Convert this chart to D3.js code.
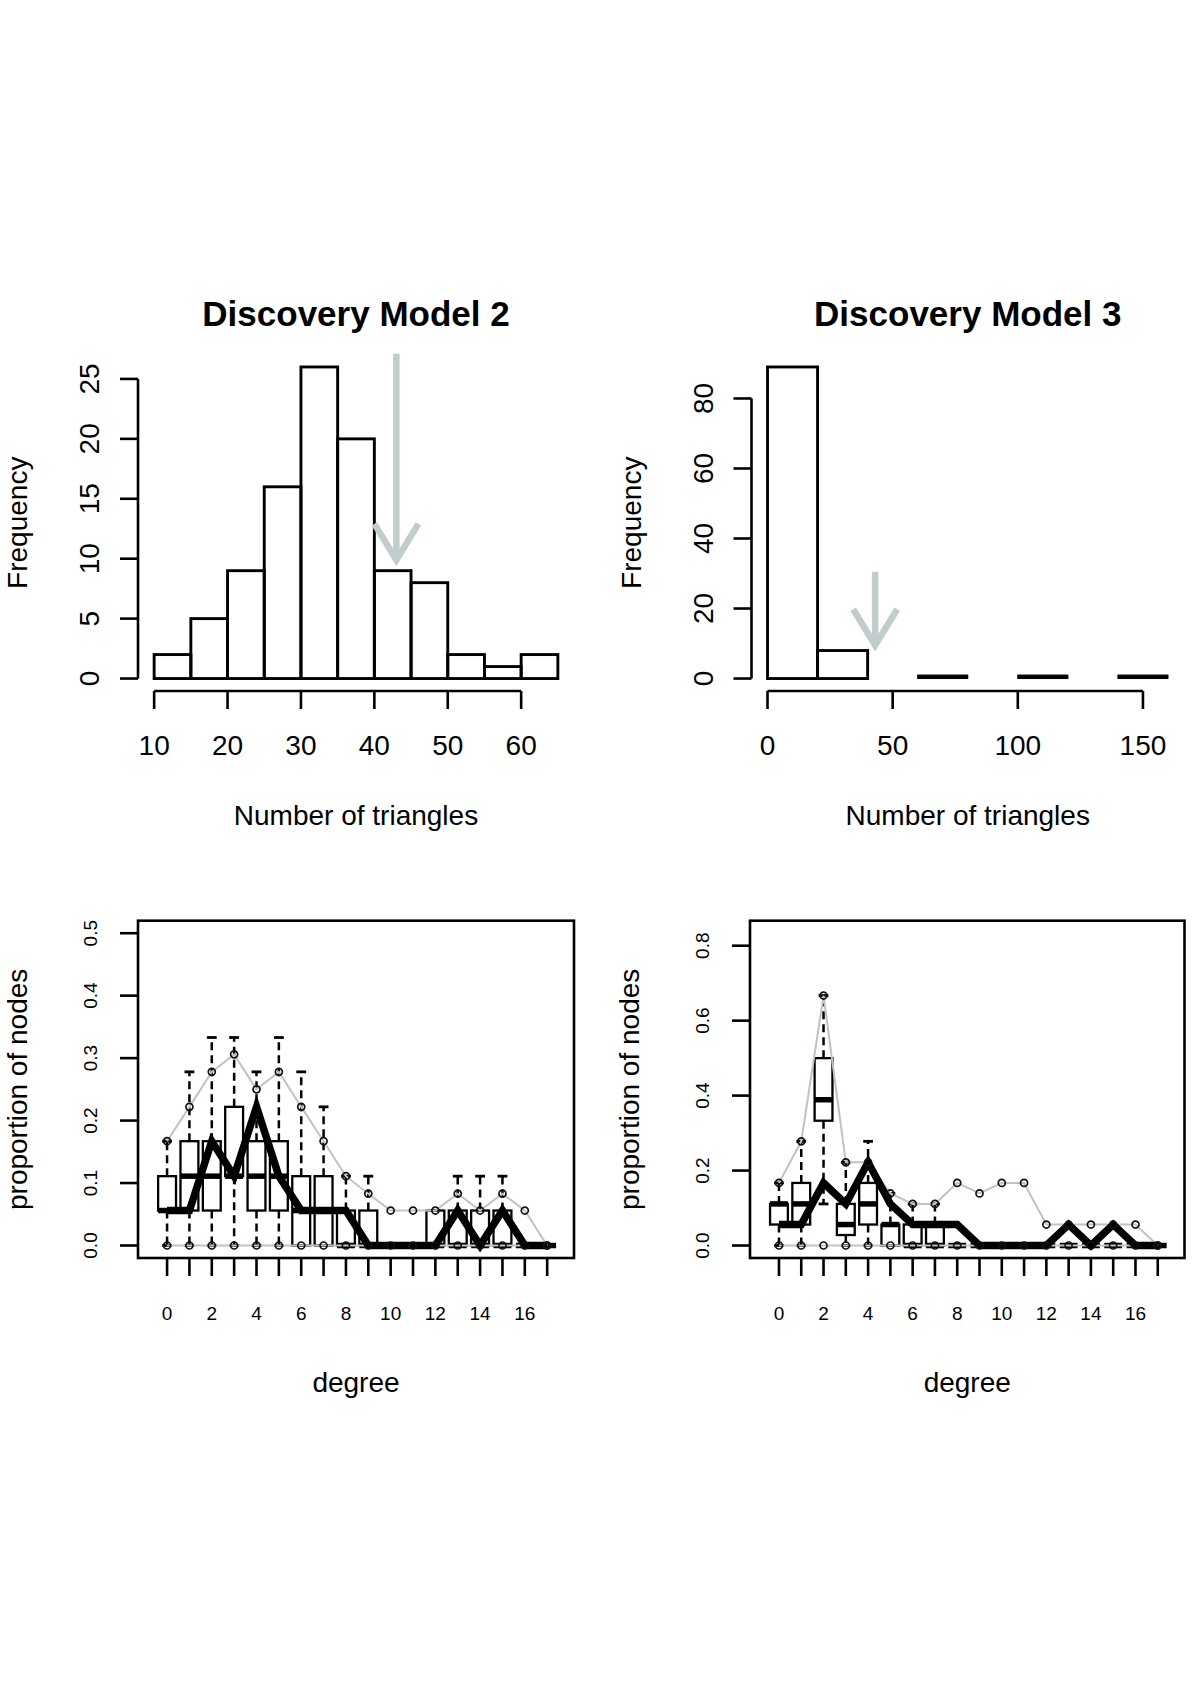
<!DOCTYPE html>
<html><head><meta charset="utf-8">
<script src="https://cdn.jsdelivr.net/npm/d3@7"></script>
<style>
body{margin:0;background:#fff}
svg{display:block}
text{font-family:"Liberation Sans",Arial,sans-serif;fill:#000}
</style>
</head><body><div id="chart"></div>
<script>
// ---------------- data ----------------
const titles = ["Discovery Model 2", "Discovery Model 3"];
const histXLabel = "Number of triangles";
const histYLabel = "Frequency";
const gofXLabel = "degree";
const gofYLabel = "proportion of nodes";

const binEdges2 = [10, 15, 20, 25, 30, 35, 40, 45, 50, 55, 60, 65];
const counts2 = [2, 5, 9, 16, 26, 20, 9, 8, 2, 1, 2];
const xTicks2 = [10, 20, 30, 40, 50, 60];
const yTicks2 = [0, 5, 10, 15, 20, 25];

const binEdges3 = [0, 20, 40, 60, 80, 100, 120, 140, 160];
const counts3 = [89, 8, 0, 1, 0, 1, 0, 1];
const xTicks3 = [0, 50, 100, 150];
const yTicks3 = [0, 20, 40, 60, 80];

const observedTriangles = [43, 43];
const arrowFrom = [27.1, 30.5];
const arrowTo = [9.9, 9.5];

const degrees = [0, 1, 2, 3, 4, 5, 6, 7, 8, 9, 10, 11, 12, 13, 14, 15, 16, 17];
const degreeLabels = [0, 2, 4, 6, 8, 10, 12, 14, 16];
const gofYTicks2 = [0, 0.1, 0.2, 0.3, 0.4, 0.5];
const gofYTicks3 = [0, 0.2, 0.4, 0.6, 0.8];

// observed network degree distribution (same network in both panels)
const observed = [0.056, 0.056, 0.167, 0.111, 0.222, 0.111, 0.056, 0.056, 0.056, 0, 0, 0, 0, 0.056, 0, 0.056, 0, 0];

// Model 2 simulated degree distribution (boxplots + 95% bounds)
const q1_2  = [0.056, 0.056, 0.056, 0.111, 0.056, 0.056, 0, 0, 0, 0, 0, 0, 0, 0, 0, 0, 0, 0];
const med_2 = [0.056, 0.111, 0.111, 0.111, 0.111, 0.111, 0.056, 0.056, 0, 0, 0, 0, 0, 0, 0, 0, 0, 0];
const q3_2  = [0.111, 0.167, 0.167, 0.222, 0.167, 0.167, 0.111, 0.111, 0.056, 0.056, 0, 0, 0.056, 0.056, 0.056, 0.056, 0, 0];
const wlo_2 = [0, 0, 0, 0, 0, 0, 0, 0, 0, 0, 0, 0, 0, 0, 0, 0, 0, 0];
const whi_2 = [0.167, 0.278, 0.333, 0.333, 0.278, 0.333, 0.278, 0.222, 0.111, 0.111, 0, 0, 0.056, 0.111, 0.111, 0.111, 0, 0];
const upper_2 = [0.167, 0.222, 0.278, 0.306, 0.25, 0.278, 0.222, 0.167, 0.111, 0.083, 0.056, 0.056, 0.056, 0.083, 0.056, 0.083, 0.056, 0];
const lower_2 = [0, 0, 0, 0, 0, 0, 0, 0, 0, 0, 0, 0, 0, 0, 0, 0, 0, 0];

// Model 3
const q1_3  = [0.056, 0.056, 0.333, 0.028, 0.056, 0, 0, 0, 0, 0, 0, 0, 0, 0, 0, 0, 0, 0];
const med_3 = [0.111, 0.111, 0.389, 0.056, 0.111, 0.056, 0, 0, 0, 0, 0, 0, 0, 0, 0, 0, 0, 0];
const q3_3  = [0.111, 0.167, 0.5, 0.111, 0.167, 0.056, 0.056, 0.056, 0, 0, 0, 0, 0, 0, 0, 0, 0, 0];
const wlo_3 = [0, 0, 0.111, 0, 0, 0, 0, 0, 0, 0, 0, 0, 0, 0, 0, 0, 0, 0];
const whi_3 = [0.167, 0.278, 0.667, 0.222, 0.278, 0.139, 0.111, 0.111, 0, 0, 0, 0, 0, 0, 0, 0, 0, 0];
const upper_3 = [0.167, 0.278, 0.667, 0.222, 0.222, 0.139, 0.111, 0.111, 0.167, 0.139, 0.167, 0.167, 0.056, 0.056, 0.056, 0.056, 0.056, 0];
const lower_3 = [0, 0, 0, 0, 0, 0, 0, 0, 0, 0, 0, 0, 0, 0, 0, 0, 0, 0];

// ---------------- drawing ----------------
const W = 1200, H = 1698;
const svg = d3.select("#chart").append("svg").attr("width", W).attr("height", H);
svg.append("rect").attr("width", W).attr("height", H).attr("fill", "#fff");

const LW = 2.6;
const arrowCol = "#c1cdcd";
const greyCol = "#bcc4c4";

function rotText(g, x, y, txt, size) {
  g.append("text").attr("transform", `translate(${x},${y}) rotate(-90)`)
    .attr("text-anchor", "middle").attr("font-size", size).text(txt);
}

function histPanel(p) {
  const g = svg.append("g");
  const x = d3.scaleLinear().domain(p.xDom).range([p.L, p.R]);
  const y = d3.scaleLinear().domain(p.yDom).range([p.B, p.T]);
  const cx = (p.L + p.R) / 2, cy = (p.T + p.B) / 2;
  // title
  g.append("text").attr("x", cx).attr("y", 326).attr("text-anchor", "middle")
    .attr("font-size", 35).attr("font-weight", "bold").text(p.title);
  // bars
  const bins = p.counts.map((c, i) => ({x0: p.edges[i], x1: p.edges[i + 1], c}));
  const thin = d => d.c > 0 && (y(0) - y(d.c)) < 5;
  g.selectAll("rect.bar").data(bins).join("rect").attr("class", "bar")
    .attr("x", d => x(d.x0)).attr("width", d => x(d.x1) - x(d.x0))
    .attr("y", d => y(d.c)).attr("height", d => y(0) - y(d.c))
    .attr("fill", d => thin(d) ? "#000" : "none")
    .attr("stroke", "#000").attr("stroke-width", d => thin(d) ? 1 : 2.9);
  // x axis
  g.append("line").attr("x1", x(p.xTicks[0])).attr("x2", x(p.xTicks[p.xTicks.length - 1]))
    .attr("y1", p.B).attr("y2", p.B).attr("stroke", "#000").attr("stroke-width", LW);
  p.xTicks.forEach(t => {
    g.append("line").attr("x1", x(t)).attr("x2", x(t)).attr("y1", p.B).attr("y2", p.B + 18)
      .attr("stroke", "#000").attr("stroke-width", LW);
    g.append("text").attr("x", x(t)).attr("y", p.B + 64).attr("text-anchor", "middle")
      .attr("font-size", 28).text(t);
  });
  // y axis
  g.append("line").attr("x1", p.L).attr("x2", p.L).attr("y1", y(p.yTicks[0]))
    .attr("y2", y(p.yTicks[p.yTicks.length - 1])).attr("stroke", "#000").attr("stroke-width", LW);
  p.yTicks.forEach(t => {
    g.append("line").attr("x1", p.L - 18).attr("x2", p.L).attr("y1", y(t)).attr("y2", y(t))
      .attr("stroke", "#000").attr("stroke-width", LW);
    rotText(g, p.L - 39, y(t), t, 28);
  });
  // labels
  g.append("text").attr("x", cx).attr("y", p.B + 134).attr("text-anchor", "middle")
    .attr("font-size", 28).text(histXLabel);
  rotText(g, p.L - 111, cy, histYLabel, 28);
  // arrow for observed value
  const ax = x(p.obs), ay0 = y(p.aFrom), ay1 = y(p.aTo);
  const ag = g.append("g").attr("stroke", arrowCol).attr("stroke-width", 6.5).attr("fill", "none");
  ag.append("line").attr("x1", ax).attr("x2", ax).attr("y1", ay0).attr("y2", ay1);
  ag.append("path").attr("d", `M${ax - 22},${ay1 - 36}L${ax},${ay1}L${ax + 22},${ay1 - 36}`)
    .attr("stroke-linejoin", "miter");
}

function gofPanel(p) {
  const g = svg.append("g");
  const x = d3.scaleLinear().domain([-1.3, 18.2]).range([p.L, p.R]);
  const y = d3.scaleLinear().domain(p.yDom).range([p.B, p.T]);
  const cx = (p.L + p.R) / 2, cy = (p.T + p.B) / 2;
  const unit = x(1) - x(0);
  const hw = 0.4 * unit, sw = 0.22 * unit;

  // boxplots
  degrees.forEach((d, i) => {
    const xc = x(d);
    const dash = "8,5";
    g.append("line").attr("x1", xc).attr("x2", xc).attr("y1", y(p.q3[i])).attr("y2", y(p.whi[i]))
      .attr("stroke", "#000").attr("stroke-width", 2.5).attr("stroke-dasharray", dash);
    g.append("line").attr("x1", xc).attr("x2", xc).attr("y1", y(p.q1[i])).attr("y2", y(p.wlo[i]))
      .attr("stroke", "#000").attr("stroke-width", 2.5).attr("stroke-dasharray", dash);
    [p.whi[i], p.wlo[i]].forEach(v => {
      g.append("line").attr("x1", xc - sw).attr("x2", xc + sw).attr("y1", y(v)).attr("y2", y(v))
        .attr("stroke", "#000").attr("stroke-width", 2.8);
    });
    g.append("rect").attr("x", xc - hw).attr("width", 2 * hw)
      .attr("y", y(p.q3[i])).attr("height", y(p.q1[i]) - y(p.q3[i]))
      .attr("fill", "#fff").attr("stroke", "#000").attr("stroke-width", 2.3);
    g.append("line").attr("x1", xc - hw).attr("x2", xc + hw).attr("y1", y(p.med[i])).attr("y2", y(p.med[i]))
      .attr("stroke", "#000").attr("stroke-width", 5.5);
  });

  // grey 95% bound lines
  const line = d3.line().x((v, i) => x(degrees[i])).y(v => y(v));
  [p.upper, p.lower].forEach(arr => {
    g.append("path").attr("d", line(arr)).attr("fill", "none")
      .attr("stroke", greyCol).attr("stroke-width", 2);
  });
  // observed
  g.append("path").attr("d", line(observed)).attr("fill", "none")
    .attr("stroke", "#000").attr("stroke-width", 7.5).attr("stroke-linejoin", "miter");
  // circles on bounds
  [p.upper, p.lower].forEach(arr => {
    g.selectAll(null).data(arr).join("circle")
      .attr("cx", (v, i) => x(degrees[i])).attr("cy", v => y(v)).attr("r", 3.5)
      .attr("fill", "none").attr("stroke", "#111").attr("stroke-width", 1.7);
  });

  // frame
  g.append("rect").attr("x", p.L).attr("y", p.T).attr("width", p.R - p.L).attr("height", p.B - p.T)
    .attr("fill", "none").attr("stroke", "#000").attr("stroke-width", LW);
  // x ticks
  degrees.forEach(d => {
    g.append("line").attr("x1", x(d)).attr("x2", x(d)).attr("y1", p.B).attr("y2", p.B + 18)
      .attr("stroke", "#000").attr("stroke-width", LW);
  });
  degreeLabels.forEach(d => {
    g.append("text").attr("x", x(d)).attr("y", p.B + 62).attr("text-anchor", "middle")
      .attr("font-size", 19).text(d);
  });
  // y ticks
  p.yTicks.forEach(t => {
    g.append("line").attr("x1", p.L - 18).attr("x2", p.L).attr("y1", y(t)).attr("y2", y(t))
      .attr("stroke", "#000").attr("stroke-width", LW);
    rotText(g, p.L - 41.5, y(t), d3.format(".1f")(t), 19);
  });
  g.append("text").attr("x", cx).attr("y", p.B + 134).attr("text-anchor", "middle")
    .attr("font-size", 28).text(gofXLabel);
  rotText(g, p.L - 111, cy, gofYLabel, 28);
}

histPanel({title: titles[0], L: 138, R: 574, T: 354.5, B: 691, xDom: [7.8, 67.2], yDom: [-1.04, 27.04],
  edges: binEdges2, counts: counts2, xTicks: xTicks2, yTicks: yTicks2,
  obs: observedTriangles[0], aFrom: arrowFrom[0], aTo: arrowTo[0]});
histPanel({title: titles[1], L: 751.5, R: 1184, T: 354.5, B: 691, xDom: [-6.4, 166.4], yDom: [-3.56, 92.56],
  edges: binEdges3, counts: counts3, xTicks: xTicks3, yTicks: yTicks3,
  obs: observedTriangles[1], aFrom: arrowFrom[1], aTo: arrowTo[1]});

gofPanel({L: 138, R: 574, T: 920.7, B: 1258, yDom: [-0.02, 0.52], yTicks: gofYTicks2,
  q1: q1_2, med: med_2, q3: q3_2, wlo: wlo_2, whi: whi_2, upper: upper_2, lower: lower_2});
gofPanel({L: 750, R: 1184.5, T: 920.7, B: 1258, yDom: [-0.0333, 0.8667], yTicks: gofYTicks3,
  q1: q1_3, med: med_3, q3: q3_3, wlo: wlo_3, whi: whi_3, upper: upper_3, lower: lower_3});
</script>
</body></html>
